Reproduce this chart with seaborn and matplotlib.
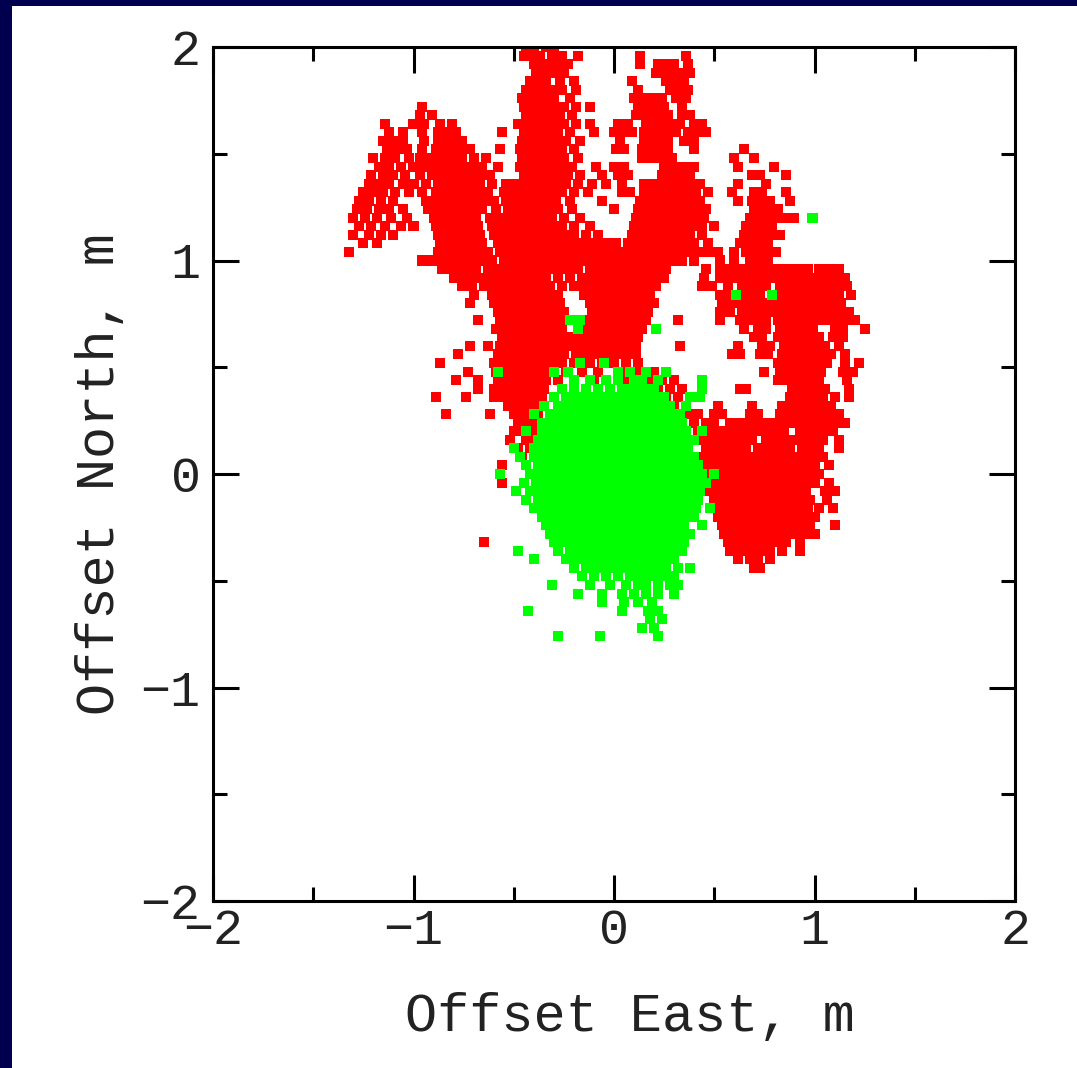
import matplotlib
matplotlib.use("Agg")
import matplotlib.pyplot as plt
from matplotlib.patches import Rectangle
from matplotlib.ticker import MultipleLocator
import seaborn as sns
import pandas as pd

# ---------------- data (metres) ----------------
red_north = [2.00, 1.96, 1.92, 1.88, 1.84, 1.80, 1.76, 1.72, 1.68, 1.64, 1.60, 1.56, 1.52, 1.48,
             1.44, 1.40, 1.36, 1.32, 1.28, 1.24, 1.20, 1.16, 1.12, 1.08, 1.04, 1.00, 0.96, 0.92,
             0.88, 0.84, 0.80, 0.76, 0.72, 0.68, 0.64, 0.60, 0.56, 0.52, 0.48, 0.44, 0.40, 0.36,
             0.32, 0.28, 0.24, 0.20, 0.16, 0.12, 0.08, 0.04, 0.00, -0.04, -0.08, -0.12, -0.16,
             -0.20, -0.24, -0.28, -0.32, -0.36, -0.40, -0.44]
red_east = [
    [-0.44, -0.40, -0.34, -0.30],
    [-0.45, -0.41, -0.37, -0.31, -0.26, -0.18, 0.13, 0.36],
    [-0.40, -0.36, -0.32, -0.27, -0.23, 0.13, 0.22, 0.26, 0.30, 0.37],
    [-0.39, -0.35, -0.30, -0.25, 0.21, 0.25, 0.29, 0.33, 0.38],
    [-0.42, -0.38, -0.34, -0.27, -0.20, 0.09, 0.26, 0.30, 0.35],
    [-0.44, -0.40, -0.36, -0.31, -0.26, -0.19, 0.12, 0.28, 0.32, 0.37],
    [-0.46, -0.42, -0.38, -0.34, -0.30, -0.22, 0.10, 0.15, 0.20, 0.24, 0.31, 0.36],
    [-0.96, -0.45, -0.41, -0.37, -0.33, -0.29, -0.25, -0.19, -0.12, 0.12, 0.16, 0.20, 0.25, 0.34],
    [-0.97, -0.91, -0.44, -0.40, -0.36, -0.32, -0.27, -0.21, 0.11, 0.15, 0.19, 0.23, 0.27, 0.34, 0.38],
    [-1.14, -1.00, -0.95, -0.87, -0.81, -0.48, -0.43, -0.39, -0.35, -0.30, -0.25, -0.19, -0.12,
     0.02, 0.07, 0.16, 0.20, 0.24, 0.29, 0.33, 0.40, 0.44],
    [-1.12, -1.05, -0.96, -0.88, -0.84, -0.79, -0.56, -0.45, -0.41, -0.37, -0.33, -0.28, -0.22,
     -0.10, 0.00, 0.05, 0.09, 0.15, 0.19, 0.23, 0.27, 0.31, 0.37, 0.42, 0.46],
    [-1.15, -1.10, -1.05, -0.95, -0.88, -0.84, -0.80, -0.76, -0.46, -0.42, -0.38, -0.34, -0.29,
     -0.24, -0.17, 0.03, 0.15, 0.19, 0.23, 0.27, 0.35, 0.40],
    [-1.13, -1.08, -1.03, -0.96, -0.89, -0.85, -0.81, -0.77, -0.72, -0.57, -0.47, -0.43, -0.39,
     -0.35, -0.31, -0.26, -0.20, 0.01, 0.05, 0.14, 0.18, 0.22, 0.27, 0.40, 0.65],
    [-1.20, -1.14, -1.09, -1.02, -0.97, -0.92, -0.88, -0.84, -0.80, -0.76, -0.70, -0.64, -0.46,
     -0.42, -0.38, -0.34, -0.30, -0.25, -0.18, 0.14, 0.19, 0.24, 0.29, 0.60, 0.70],
    [-1.17, -1.12, -1.06, -1.00, -0.95, -0.91, -0.87, -0.83, -0.79, -0.75, -0.70, -0.66, -0.58,
     -0.47, -0.43, -0.39, -0.35, -0.31, -0.26, -0.21, -0.09, 0.00, 0.05, 0.25, 0.30, 0.35, 0.40,
     0.62, 0.80],
    [-1.21, -1.15, -1.10, -1.04, -0.97, -0.91, -0.87, -0.83, -0.79, -0.75, -0.71, -0.66, -0.62,
     -0.45, -0.41, -0.37, -0.33, -0.28, -0.23, -0.17, -0.06, 0.02, 0.07, 0.24, 0.28, 0.33, 0.38,
     0.69, 0.73, 0.86],
    [-1.22, -1.17, -1.12, -1.05, -1.00, -0.94, -0.88, -0.84, -0.80, -0.76, -0.72, -0.67, -0.61,
     -0.54, -0.50, -0.46, -0.42, -0.38, -0.34, -0.29, -0.24, -0.18, -0.11, -0.04, 0.04, 0.15,
     0.20, 0.25, 0.29, 0.34, 0.38, 0.43, 0.62, 0.76],
    [-1.25, -1.20, -1.15, -1.09, -1.02, -0.96, -0.89, -0.85, -0.81, -0.77, -0.73, -0.68, -0.63,
     -0.55, -0.51, -0.47, -0.43, -0.39, -0.35, -0.31, -0.26, -0.20, -0.13, 0.04, 0.08, 0.15,
     0.19, 0.23, 0.28, 0.32, 0.36, 0.41, 0.47, 0.59, 0.70, 0.74, 0.86],
    [-1.27, -1.22, -1.16, -1.10, -0.94, -0.89, -0.85, -0.81, -0.77, -0.73, -0.69, -0.65, -0.60,
     -0.54, -0.50, -0.46, -0.42, -0.38, -0.34, -0.29, -0.22, -0.06, 0.13, 0.17, 0.21, 0.26,
     0.30, 0.34, 0.38, 0.43, 0.62, 0.69, 0.73, 0.78, 0.88],
    [-1.28, -1.23, -1.17, -1.12, -1.05, -0.93, -0.88, -0.84, -0.80, -0.76, -0.71, -0.66, -0.59,
     -0.53, -0.49, -0.45, -0.41, -0.37, -0.33, -0.28, -0.21, 0.00, 0.12, 0.16, 0.20, 0.24,
     0.28, 0.32, 0.37, 0.42, 0.46, 0.70, 0.74, 0.78, 0.82],
    [-1.30, -1.24, -1.18, -1.11, -1.03, -0.90, -0.86, -0.82, -0.78, -0.74, -0.69, -0.62, -0.57,
     -0.52, -0.48, -0.44, -0.40, -0.36, -0.31, -0.25, -0.17, 0.11, 0.15, 0.19, 0.23, 0.27,
     0.31, 0.35, 0.40, 0.45, 0.68, 0.72, 0.76, 0.80, 0.85, 0.90],
    [-1.27, -1.21, -1.14, -1.06, -1.00, -0.89, -0.85, -0.81, -0.77, -0.73, -0.68, -0.61, -0.56,
     -0.51, -0.47, -0.43, -0.39, -0.35, -0.30, -0.26, -0.20, -0.12, 0.10, 0.14, 0.18, 0.22,
     0.26, 0.30, 0.34, 0.39, 0.44, 0.50, 0.66, 0.70, 0.75, 0.79],
    [-1.30, -1.22, -1.16, -1.10, -0.88, -0.84, -0.80, -0.76, -0.72, -0.67, -0.60, -0.55, -0.50,
     -0.46, -0.42, -0.38, -0.34, -0.30, -0.25, -0.20, -0.14, -0.08, 0.09, 0.13, 0.17, 0.21,
     0.25, 0.29, 0.33, 0.38, 0.44, 0.65, 0.70, 0.74, 0.79, 0.83],
    [-1.25, -1.18, -0.87, -0.83, -0.79, -0.75, -0.71, -0.66, -0.58, -0.54, -0.50, -0.46, -0.42,
     -0.38, -0.34, -0.29, -0.24, -0.19, -0.14, -0.09, -0.04, 0.01, 0.07, 0.11, 0.15, 0.19,
     0.23, 0.27, 0.31, 0.35, 0.40, 0.47, 0.63, 0.68, 0.72, 0.77],
    [-1.32, -0.88, -0.84, -0.80, -0.76, -0.72, -0.68, -0.63, -0.57, -0.53, -0.49, -0.45, -0.41,
     -0.37, -0.33, -0.29, -0.25, -0.21, -0.16, -0.11, -0.06, -0.01, 0.04, 0.09, 0.13, 0.17,
     0.21, 0.25, 0.29, 0.33, 0.37, 0.42, 0.47, 0.52, 0.60, 0.66, 0.71, 0.76, 0.81],
    [-0.96, -0.91, -0.86, -0.82, -0.78, -0.74, -0.70, -0.66, -0.61, -0.55, -0.51, -0.47, -0.43,
     -0.39, -0.35, -0.31, -0.27, -0.23, -0.19, -0.15, -0.11, -0.07, -0.03, 0.01, 0.05, 0.09,
     0.14, 0.18, 0.22, 0.26, 0.30, 0.34, 0.40, 0.53, 0.60, 0.68, 0.72, 0.77],
    [-0.86, -0.82, -0.78, -0.74, -0.69, -0.63, -0.59, -0.55, -0.51, -0.47, -0.43, -0.39, -0.35,
     -0.31, -0.27, -0.23, -0.18, -0.12, -0.07, -0.03, 0.01, 0.05, 0.09, 0.13, 0.17, 0.21, 0.26,
     0.46, 0.53, 0.58, 0.63, 0.68, 0.72, 0.76, 0.80, 0.84, 0.88, 0.92, 0.97, 1.02, 1.07, 1.12],
    [-0.80, -0.76, -0.72, -0.68, -0.63, -0.58, -0.54, -0.50, -0.46, -0.42, -0.38, -0.34, -0.28,
     -0.22, -0.16, -0.12, -0.08, -0.04, 0.00, 0.04, 0.08, 0.12, 0.16, 0.20, 0.25, 0.45, 0.53,
     0.57, 0.62, 0.67, 0.71, 0.75, 0.79, 0.83, 0.87, 0.91, 0.95, 0.99, 1.03, 1.07, 1.11, 1.15],
    [-0.76, -0.71, -0.65, -0.60, -0.56, -0.52, -0.48, -0.44, -0.40, -0.36, -0.32, -0.26, -0.20,
     -0.15, -0.11, -0.07, -0.03, 0.01, 0.05, 0.09, 0.13, 0.17, 0.21, 0.44, 0.49, 0.57, 0.64,
     0.68, 0.72, 0.76, 0.83, 0.87, 0.91, 0.95, 0.99, 1.03, 1.07, 1.11, 1.16],
    [-0.70, -0.61, -0.57, -0.53, -0.49, -0.45, -0.41, -0.37, -0.33, -0.28, -0.15, -0.10, -0.06,
     -0.02, 0.02, 0.06, 0.10, 0.14, 0.18, 0.53, 0.57, 0.65, 0.69, 0.73, 0.83, 0.87, 0.91, 0.95,
     0.99, 1.03, 1.07, 1.12, 1.18],
    [-0.72, -0.60, -0.56, -0.52, -0.48, -0.44, -0.40, -0.36, -0.32, -0.27, -0.12, -0.08, -0.04,
     0.00, 0.04, 0.08, 0.12, 0.16, 0.20, 0.54, 0.59, 0.64, 0.68, 0.72, 0.76, 0.80, 0.84, 0.88,
     0.92, 0.96, 1.00, 1.04, 1.08, 1.13],
    [-0.58, -0.54, -0.50, -0.46, -0.42, -0.38, -0.34, -0.29, -0.25, -0.11, -0.07, -0.03, 0.01,
     0.05, 0.09, 0.13, 0.17, 0.53, 0.58, 0.64, 0.68, 0.72, 0.76, 0.80, 0.84, 0.88, 0.92, 0.96,
     1.00, 1.04, 1.08, 1.12, 1.17],
    [-0.68, -0.57, -0.53, -0.49, -0.45, -0.41, -0.37, -0.33, -0.28, -0.24, -0.12, -0.08, -0.04,
     0.00, 0.04, 0.08, 0.12, 0.16, 0.32, 0.53, 0.63, 0.67, 0.71, 0.76, 0.82, 0.86, 0.90, 0.94,
     0.98, 1.02, 1.06, 1.10, 1.15, 1.20],
    [-0.59, -0.55, -0.51, -0.47, -0.43, -0.39, -0.35, -0.30, -0.26, -0.14, -0.10, -0.06, -0.02,
     0.02, 0.06, 0.10, 0.14, 0.65, 0.72, 0.76, 0.83, 0.87, 0.91, 0.95, 0.99, 1.10, 1.14, 1.25],
    [-0.56, -0.52, -0.48, -0.44, -0.40, -0.36, -0.32, -0.27, -0.22, -0.17, -0.12, -0.08, -0.04,
     0.00, 0.04, 0.08, 0.12, 0.70, 0.74, 0.82, 0.86, 0.90, 0.94, 0.98, 1.02, 1.09, 1.14],
    [-0.72, -0.63, -0.57, -0.53, -0.49, -0.45, -0.41, -0.37, -0.33, -0.28, -0.23, -0.18, -0.13,
     -0.09, -0.05, -0.01, 0.03, 0.07, 0.11, 0.33, 0.62, 0.74, 0.78, 0.85, 0.89, 0.93, 0.97,
     1.01, 1.05, 1.12],
    [-0.78, -0.58, -0.54, -0.50, -0.46, -0.42, -0.38, -0.34, -0.30, -0.25, -0.19, -0.14, -0.10,
     -0.06, -0.02, 0.02, 0.06, 0.11, 0.59, 0.63, 0.73, 0.77, 0.84, 0.88, 0.92, 0.96, 1.00,
     1.04, 1.08, 1.15],
    [-0.87, -0.60, -0.55, -0.51, -0.47, -0.43, -0.39, -0.35, -0.31, -0.26, -0.20, -0.12, -0.06,
     0.00, 0.06, 0.12, 0.82, 0.86, 0.90, 0.94, 0.98, 1.02, 1.06, 1.15, 1.22],
    [-0.73, -0.59, -0.55, -0.51, -0.47, -0.43, -0.39, -0.35, -0.30, -0.24, -0.16, -0.08, 0.04,
     0.12, 0.20, 0.26, 0.75, 0.83, 0.87, 0.91, 0.95, 0.99, 1.03, 1.14, 1.19],
    [-0.79, -0.68, -0.58, -0.54, -0.50, -0.46, -0.42, -0.38, -0.34, -0.28, -0.20, -0.10, 0.06,
     0.18, 0.24, 0.30, 0.82, 0.86, 0.90, 0.94, 0.98, 1.02, 1.16],
    [-0.68, -0.60, -0.55, -0.51, -0.47, -0.43, -0.39, -0.35, 0.22, 0.28, 0.34, 0.63, 0.66,
     0.89, 0.93, 0.97, 1.01, 1.05, 1.17],
    [-0.89, -0.74, -0.60, -0.56, -0.52, -0.48, -0.44, -0.40, -0.36, 0.26, 0.32, 0.88, 0.92,
     0.96, 1.00, 1.04, 1.10, 1.17],
    [-0.53, -0.49, -0.45, -0.41, -0.37, 0.30, 0.36, 0.52, 0.69, 0.84, 0.88, 0.92, 0.96, 1.00,
     1.04, 1.08],
    [-0.84, -0.62, -0.50, -0.46, -0.42, -0.38, 0.37, 0.42, 0.50, 0.54, 0.68, 0.72, 0.83, 0.87,
     0.91, 0.95, 0.99, 1.03, 1.07, 1.12],
    [-0.48, -0.44, -0.40, 0.40, 0.46, 0.50, 0.58, 0.62, 0.66, 0.70, 0.74, 0.78, 0.82, 0.86,
     0.90, 0.94, 0.98, 1.02, 1.06, 1.10, 1.15],
    [-0.50, -0.46, -0.42, -0.38, 0.42, 0.48, 0.53, 0.57, 0.61, 0.65, 0.69, 0.73, 0.77, 0.81,
     0.85, 0.93, 0.97, 1.01, 1.05, 1.09],
    [-0.52, -0.44, -0.40, 0.44, 0.49, 0.53, 0.57, 0.61, 0.65, 0.69, 0.76, 0.80, 0.84, 0.88,
     0.92, 0.96, 1.00, 1.04, 1.12],
    [-0.48, -0.42, 0.46, 0.50, 0.54, 0.58, 0.62, 0.66, 0.72, 0.76, 0.80, 0.84, 0.88, 0.94,
     0.98, 1.02, 1.12],
    [-0.46, 0.44, 0.48, 0.52, 0.56, 0.60, 0.64, 0.68, 0.72, 0.76, 0.80, 0.84, 0.88, 0.92, 0.96,
     1.00, 1.04],
    [-0.56, 0.44, 0.48, 0.52, 0.56, 0.60, 0.64, 0.68, 0.72, 0.76, 0.80, 0.84, 0.88, 0.92, 0.96,
     1.00, 1.07],
    [0.46, 0.50, 0.54, 0.58, 0.62, 0.66, 0.70, 0.74, 0.78, 0.82, 0.86, 0.90, 0.94, 0.98, 1.02],
    [-0.56, 0.47, 0.51, 0.55, 0.59, 0.63, 0.67, 0.71, 0.75, 0.79, 0.83, 0.87, 0.91, 0.95, 1.00,
     1.07],
    [0.48, 0.52, 0.56, 0.60, 0.64, 0.68, 0.72, 0.76, 0.80, 0.84, 0.88, 0.92, 0.96, 1.05, 1.10],
    [-0.30, 0.50, 0.54, 0.58, 0.62, 0.66, 0.70, 0.74, 0.78, 0.82, 0.86, 0.90, 0.94, 0.98, 1.06],
    [0.49, 0.53, 0.57, 0.61, 0.65, 0.69, 0.73, 0.77, 0.81, 0.85, 0.89, 0.93, 0.97, 1.02, 1.09],
    [0.52, 0.56, 0.60, 0.64, 0.68, 0.72, 0.76, 0.80, 0.84, 0.88, 0.92, 0.96, 1.00],
    [0.54, 0.58, 0.62, 0.66, 0.70, 0.74, 0.78, 0.82, 0.86, 0.90, 0.94, 0.98, 1.10],
    [0.55, 0.59, 0.63, 0.67, 0.71, 0.75, 0.79, 0.83, 0.87, 0.91, 0.96, 1.00],
    [-0.65, 0.57, 0.61, 0.65, 0.69, 0.73, 0.77, 0.81, 0.86, 0.93],
    [0.58, 0.62, 0.66, 0.70, 0.74, 0.78, 0.84, 0.93],
    [0.62, 0.68, 0.72, 0.78],
    [0.70, 0.73],
]

green_north = [1.20, 0.84, 0.72, 0.68, 0.52, 0.48, 0.44, 0.40, 0.36, 0.32, 0.28, 0.24, 0.20,
               0.16, 0.12, 0.08, 0.04, 0.00, -0.04, -0.08, -0.12, -0.16, -0.20, -0.24, -0.28,
               -0.32, -0.36, -0.40, -0.44, -0.48, -0.52, -0.56, -0.60, -0.64, -0.68, -0.72, -0.76]
green_east = [
    [0.99],
    [0.61, 0.79],
    [-0.22, -0.17],
    [-0.18, 0.21],
    [-0.17, -0.05],
    [-0.58, -0.30, -0.23, 0.02, 0.08, 0.16, 0.26],
    [-0.20, -0.12, -0.04, 0.02, 0.10, 0.14, 0.22, 0.44],
    [-0.26, -0.20, -0.14, -0.08, -0.02, 0.04, 0.08, 0.12, 0.16, 0.20, 0.44],
    [-0.30, -0.24, -0.19, -0.15, -0.11, -0.07, -0.03, 0.01, 0.05, 0.09, 0.13, 0.17, 0.21, 0.25,
     0.38, 0.43],
    [-0.35, -0.28, -0.24, -0.20, -0.16, -0.12, -0.08, -0.04, 0.00, 0.04, 0.08, 0.12, 0.16, 0.20,
     0.24, 0.28, 0.36],
    [-0.40, -0.32, -0.27, -0.23, -0.19, -0.15, -0.11, -0.07, -0.03, 0.01, 0.05, 0.09, 0.13,
     0.17, 0.21, 0.25, 0.29, 0.33],
    [-0.36, -0.31, -0.27, -0.23, -0.19, -0.15, -0.11, -0.07, -0.03, 0.01, 0.05, 0.09, 0.13,
     0.17, 0.21, 0.25, 0.29, 0.34],
    [-0.44, -0.36, -0.32, -0.28, -0.24, -0.20, -0.16, -0.12, -0.08, -0.04, 0.00, 0.04, 0.08,
     0.12, 0.16, 0.20, 0.24, 0.28, 0.32, 0.36, 0.44],
    [-0.38, -0.33, -0.29, -0.25, -0.21, -0.17, -0.13, -0.09, -0.05, -0.01, 0.03, 0.07, 0.11,
     0.15, 0.19, 0.23, 0.27, 0.31, 0.35, 0.40],
    [-0.50, -0.40, -0.35, -0.31, -0.27, -0.23, -0.19, -0.15, -0.11, -0.07, -0.03, 0.01, 0.05,
     0.09, 0.13, 0.17, 0.21, 0.25, 0.29, 0.33, 0.37],
    [-0.47, -0.40, -0.36, -0.32, -0.28, -0.24, -0.20, -0.16, -0.12, -0.08, -0.04, 0.00, 0.04,
     0.08, 0.12, 0.16, 0.20, 0.24, 0.28, 0.32, 0.36, 0.40],
    [-0.44, -0.38, -0.34, -0.30, -0.26, -0.22, -0.18, -0.14, -0.10, -0.06, -0.02, 0.02, 0.06,
     0.10, 0.14, 0.18, 0.22, 0.26, 0.30, 0.34, 0.38, 0.42],
    [-0.57, -0.42, -0.37, -0.33, -0.29, -0.25, -0.21, -0.17, -0.13, -0.09, -0.05, -0.01, 0.03,
     0.07, 0.11, 0.15, 0.19, 0.23, 0.27, 0.31, 0.35, 0.39, 0.44, 0.50],
    [-0.45, -0.39, -0.35, -0.31, -0.27, -0.23, -0.19, -0.15, -0.11, -0.07, -0.03, 0.01, 0.05,
     0.09, 0.13, 0.17, 0.21, 0.25, 0.29, 0.33, 0.37, 0.41, 0.46],
    [-0.49, -0.42, -0.37, -0.33, -0.29, -0.25, -0.21, -0.17, -0.13, -0.09, -0.05, -0.01, 0.03,
     0.07, 0.11, 0.15, 0.19, 0.23, 0.27, 0.31, 0.35, 0.39, 0.43],
    [-0.44, -0.38, -0.34, -0.30, -0.26, -0.22, -0.18, -0.14, -0.10, -0.06, -0.02, 0.02, 0.06,
     0.10, 0.14, 0.18, 0.22, 0.26, 0.30, 0.34, 0.38, 0.42],
    [-0.40, -0.35, -0.31, -0.27, -0.23, -0.19, -0.15, -0.11, -0.07, -0.03, 0.01, 0.05, 0.09,
     0.13, 0.17, 0.21, 0.25, 0.29, 0.33, 0.37, 0.41, 0.48],
    [-0.36, -0.32, -0.28, -0.24, -0.20, -0.16, -0.12, -0.08, -0.04, 0.00, 0.04, 0.08, 0.12,
     0.16, 0.20, 0.24, 0.28, 0.32, 0.36, 0.40],
    [-0.34, -0.29, -0.25, -0.21, -0.17, -0.13, -0.09, -0.05, -0.01, 0.03, 0.07, 0.11, 0.15,
     0.19, 0.23, 0.27, 0.31, 0.35, 0.44],
    [-0.32, -0.27, -0.23, -0.19, -0.15, -0.11, -0.07, -0.03, 0.01, 0.05, 0.09, 0.13, 0.17,
     0.21, 0.25, 0.29, 0.33, 0.38],
    [-0.30, -0.25, -0.21, -0.17, -0.13, -0.09, -0.05, -0.01, 0.03, 0.07, 0.11, 0.15, 0.19,
     0.23, 0.27, 0.31, 0.35],
    [-0.48, -0.28, -0.22, -0.18, -0.14, -0.10, -0.06, -0.02, 0.02, 0.06, 0.10, 0.14, 0.18,
     0.22, 0.26, 0.30, 0.34],
    [-0.40, -0.24, -0.19, -0.15, -0.11, -0.07, -0.03, 0.01, 0.05, 0.09, 0.13, 0.17, 0.21,
     0.25, 0.30],
    [-0.20, -0.14, -0.10, -0.06, -0.02, 0.02, 0.06, 0.10, 0.14, 0.18, 0.22, 0.26, 0.32, 0.38],
    [-0.16, -0.10, -0.04, 0.02, 0.08, 0.12, 0.16, 0.20, 0.25, 0.30],
    [-0.31, -0.12, -0.02, 0.06, 0.12, 0.16, 0.22, 0.28, 0.32],
    [-0.18, -0.06, 0.04, 0.10, 0.16, 0.22, 0.30],
    [-0.06, 0.05, 0.12, 0.19],
    [-0.43, 0.04, 0.17, 0.22],
    [0.18, 0.24],
    [0.14, 0.20],
    [-0.28, -0.07, 0.22],
]

x_ticks = [-2, -1, 0, 1, 2]
y_ticks = [-2, -1, 0, 1, 2]
x_label = "Offset East, m"
y_label = "Offset North, m"


def expand(north_rows, east_rows, name):
    recs = []
    for n, row in zip(north_rows, east_rows):
        for e in row:
            recs.append((e, n, name))
    return recs


records = expand(red_north, red_east, "red") + expand(green_north, green_east, "green")
df = pd.DataFrame(records, columns=["east", "north", "series"])

# ---------------- figure ----------------
sns.set_style("white")
plt.rcParams["font.family"] = ["Liberation Mono", "DejaVu Sans Mono"]

W, H = 1077, 1068
fig = plt.figure(figsize=(W / 100, H / 100), dpi=100, facecolor="#00004F")
panel = Rectangle((12 / W, 0), 1, (H - 6) / H, transform=fig.transFigure,
                  facecolor="white", edgecolor="none", zorder=-10)
fig.add_artist(panel)

ax = fig.add_axes([213 / W, (H - 901) / H, (1015 - 213) / W, (901 - 47) / H])
ax.set_zorder(5)
ax.set_facecolor("white")

sns.scatterplot(data=df, x="east", y="north", hue="series",
                palette={"red": "#FF0000", "green": "#00FF00"},
                marker="s", s=52, linewidth=0, legend=False, ax=ax)

ax.set_xlim(-2, 2)
ax.set_ylim(-2, 2)
ax.set_xticks(x_ticks)
ax.set_yticks(y_ticks)
ax.set_xticklabels([f"{t:d}".replace("-", "\u2212") for t in x_ticks])
ax.set_yticklabels([f"{t:d}".replace("-", "\u2212") for t in y_ticks])
ax.xaxis.set_minor_locator(MultipleLocator(0.5))
ax.yaxis.set_minor_locator(MultipleLocator(0.5))

for sp in ax.spines.values():
    sp.set_visible(True)
    sp.set_color("black")
    sp.set_linewidth(2.2)

ax.tick_params(which="both", direction="in", top=True, right=True, bottom=True, left=True,
               width=2.2, color="black")
ax.tick_params(which="major", length=19, labelsize=36, labelcolor="#222222")
ax.tick_params(axis="x", which="major", pad=5)
ax.tick_params(axis="y", which="major", pad=9)
ax.tick_params(which="minor", length=10)

ax.set_xlabel(x_label, fontsize=38.5, color="#222222")
ax.set_ylabel(y_label, fontsize=38.5, color="#222222")
ax.xaxis.set_label_coords(0.52, -0.136)
ax.xaxis.label.set_va("center")
ax.yaxis.set_label_coords(-0.141, 0.5)
ax.yaxis.label.set_va("center")

fig.savefig("out.png", dpi=100, facecolor=fig.get_facecolor())
